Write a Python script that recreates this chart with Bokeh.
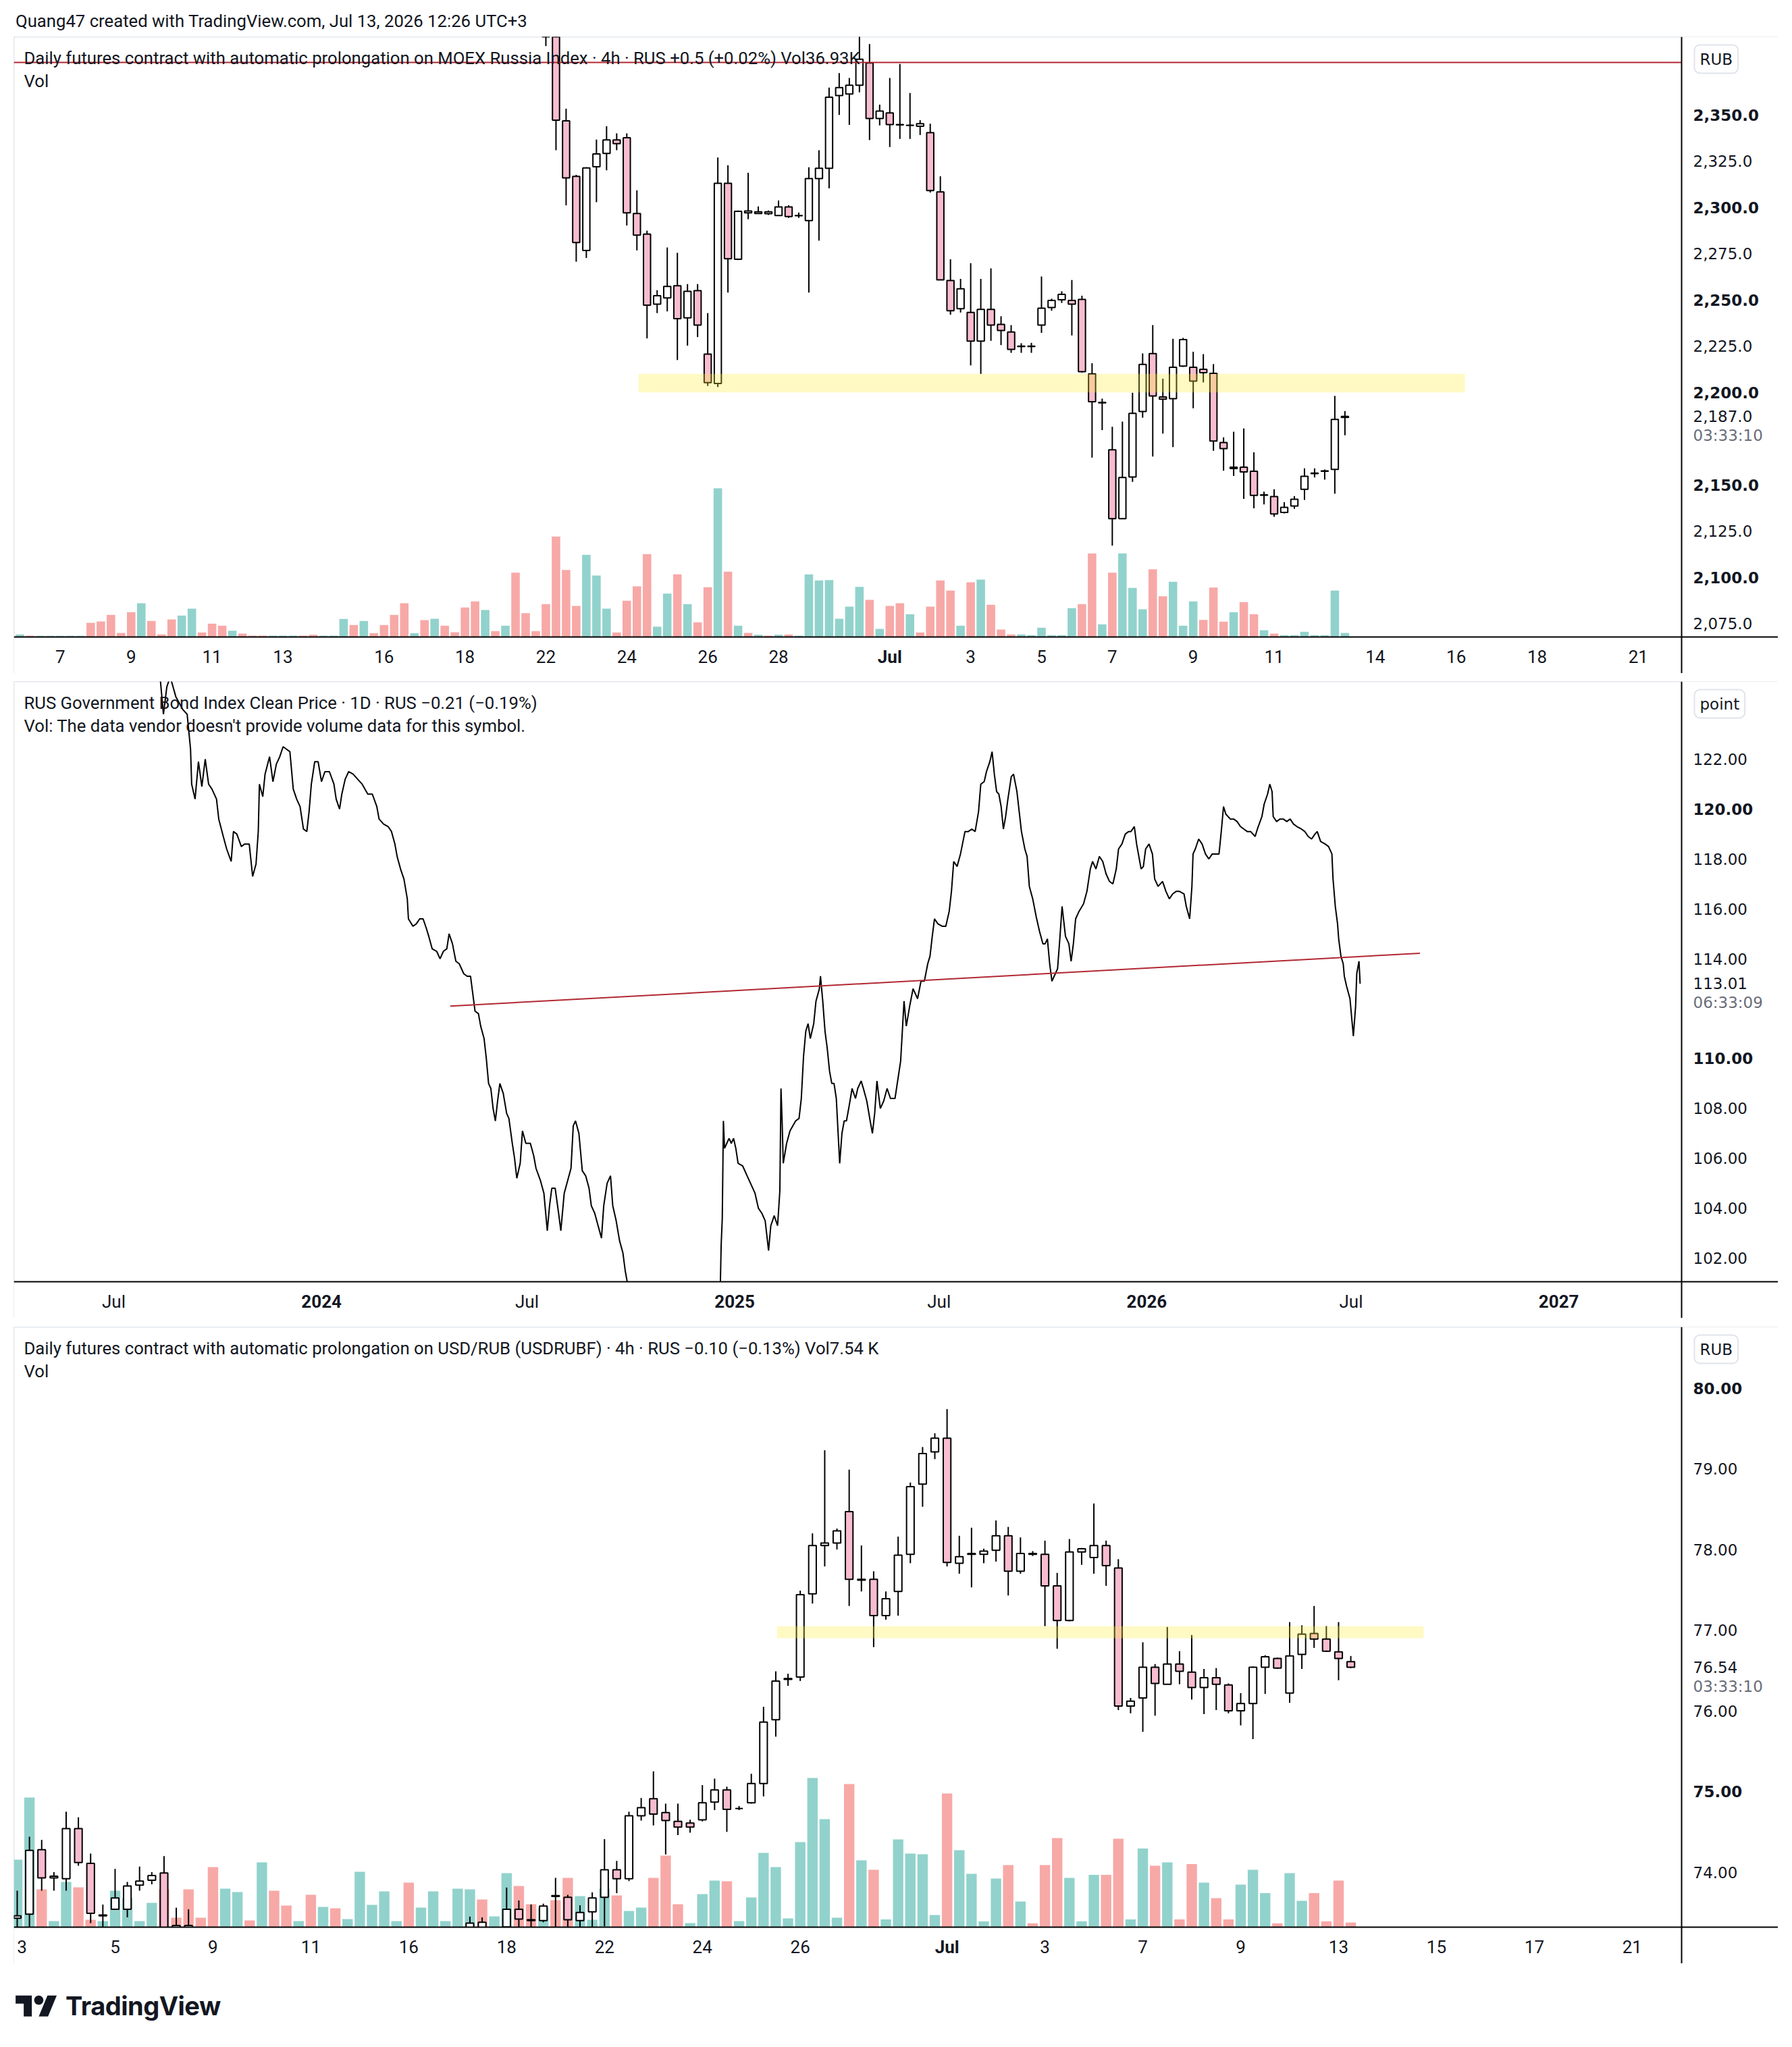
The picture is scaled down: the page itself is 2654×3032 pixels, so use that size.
import datetime as dt
from bokeh.plotting import figure
from bokeh.models import (Range1d, Label, Span, Div, Spacer, ColumnDataSource, BoxAnnotation)
from bokeh.layouts import column, row
from bokeh.embed import file_html
from bokeh.resources import INLINE

# ======================= DATA =======================
# ---- Panel 1: MOEX Russia Index futures, 4h (bar index axis) ----
moex_tick_idx = [4, 11, 19, 26, 36, 44, 52, 60, 68, 75, 86, 94, 101, 108, 116, 124, 134, 142, 150, 160]
moex_tick_lbl = ["7", "9", "11", "13", "16", "18", "22", "24", "26", "28", "Jul",
                 "3", "5", "7", "9", "11", "14", "16", "18", "21"]
moex_tick_bold = ["Jul"]
moex_idx = list(range(52, 132))
moex_open = [2412.0, 2398.0, 2346.9, 2316.9, 2276.8, 2322.1, 2329.3, 2336.6, 2337.8, 2296.8,
             2285.6, 2247.7, 2251.1, 2257.7, 2240.3, 2255.0, 2220.7, 2204.8, 2313.1, 2272.0,
             2297.1, 2296.8, 2296.7, 2295.7, 2300.3, 2295.6, 2292.9, 2315.7, 2321.2, 2360.6,
             2361.4, 2366.2, 2378.2, 2348.2, 2351.2, 2344.9, 2344.5, 2344.0, 2340.5, 2308.5,
             2260.5, 2245.3, 2243.3, 2227.7, 2244.9, 2236.8, 2232.7, 2224.8, 2224.8, 2236.4,
             2245.9, 2250.1, 2249.7, 2250.3, 2210.0, 2194.6, 2168.9, 2131.7, 2154.2, 2189.7,
             2221.0, 2197.5, 2196.6, 2214.2, 2213.6, 2212.5, 2210.3, 2172.9, 2159.5, 2159.5,
             2157.3, 2144.6, 2143.6, 2135.1, 2138.5, 2147.6, 2156.3, 2157.3, 2158.3, 2186.5]
moex_high = [2418.0, 2402.0, 2353.5, 2317.7, 2321.8, 2336.8, 2344.0, 2340.1, 2340.1, 2309.3,
             2287.5, 2255.3, 2278.4, 2275.5, 2258.6, 2258.6, 2242.9, 2327.1, 2322.9, 2298.4,
             2318.8, 2300.6, 2298.4, 2303.8, 2301.2, 2297.3, 2321.8, 2331.0, 2364.9, 2372.7,
             2370.1, 2395.0, 2388.4, 2355.7, 2370.1, 2377.7, 2362.0, 2347.3, 2345.3, 2316.9,
             2272.0, 2261.4, 2269.9, 2261.4, 2267.1, 2241.2, 2236.4, 2226.6, 2226.8, 2262.7,
             2250.7, 2254.7, 2260.8, 2252.3, 2215.8, 2196.6, 2181.4, 2184.2, 2199.8, 2221.1,
             2236.4, 2207.4, 2229.0, 2229.5, 2222.0, 2220.7, 2215.3, 2175.7, 2178.7, 2180.5,
             2167.6, 2146.3, 2147.6, 2140.6, 2143.9, 2158.9, 2158.9, 2158.3, 2198.1, 2189.9]
moex_low = [2387.3, 2331.0, 2301.2, 2270.7, 2272.7, 2302.9, 2320.1, 2331.0, 2290.3, 2276.8,
            2229.2, 2242.9, 2243.8, 2217.5, 2225.3, 2229.9, 2203.5, 2202.9, 2254.0, 2271.6,
            2293.7, 2296.8, 2296.0, 2295.7, 2294.4, 2294.4, 2254.0, 2282.1, 2310.4, 2350.1,
            2344.7, 2362.3, 2336.5, 2344.4, 2332.7, 2337.1, 2337.1, 2339.2, 2308.1, 2260.9,
            2242.0, 2243.2, 2214.6, 2210.0, 2227.9, 2225.6, 2221.4, 2221.4, 2221.4, 2232.2,
            2244.2, 2248.4, 2230.8, 2210.7, 2164.7, 2179.6, 2117.1, 2131.7, 2151.6, 2186.3,
            2165.3, 2177.7, 2170.4, 2213.8, 2191.4, 2205.4, 2168.4, 2157.6, 2154.8, 2142.4,
            2137.3, 2139.4, 2132.7, 2134.5, 2137.0, 2141.8, 2154.0, 2152.8, 2145.2, 2176.8]
moex_close = [2398.0, 2347.3, 2316.0, 2281.1, 2321.4, 2329.0, 2336.6, 2334.6, 2297.1, 2285.1,
              2247.2, 2252.3, 2257.3, 2239.9, 2254.7, 2236.4, 2205.3, 2313.1, 2272.3, 2298.0,
              2298.1, 2297.7, 2297.7, 2300.3, 2295.1, 2295.7, 2315.7, 2321.2, 2359.7, 2364.9,
              2366.2, 2380.2, 2348.2, 2352.2, 2344.9, 2344.7, 2344.4, 2345.3, 2309.2, 2260.9,
              2244.2, 2256.0, 2227.7, 2244.9, 2236.4, 2233.5, 2223.3, 2225.0, 2225.0, 2245.5,
              2249.7, 2253.0, 2247.7, 2211.2, 2195.0, 2194.3, 2131.7, 2154.0, 2188.7, 2215.1,
              2198.1, 2196.3, 2213.6, 2228.6, 2206.1, 2210.7, 2173.7, 2169.6, 2158.8, 2157.0,
              2144.3, 2144.4, 2134.2, 2137.8, 2142.2, 2154.6, 2156.1, 2157.5, 2185.4, 2187.0]
# volume for bars 0..131 (relative units) and direction (1 = up / teal, 0 = down / red)
moex_vol = [3.7, 2, 1.7, 1.7, 1.7, 1.7, 1.7, 21, 23, 32.7, 6, 36.7, 50, 23.7, 3.7, 26, 31.7, 42,
            6.7, 19.7, 16.7, 9.3, 5, 2, 2, 2, 2, 2, 2, 3.3, 2, 2, 26.7, 17.7, 23.7, 5.7, 17.7,
            32.7, 50, 5.7, 25, 27, 16.7, 7, 43.7, 52.7, 40, 8.7, 16.7, 95.3, 35.3, 8.7, 48.7,
            148.7, 99.3, 46, 121.7, 91, 42, 6.7, 53.7, 75, 122.7, 15.3, 64.3, 92.7, 48.7, 21.7,
            73.7, 220.3, 96.7, 16.7, 6, 3.3, 2, 3.3, 3.7, 2, 92.7, 83.7, 84.3, 27, 45, 74.3, 55,
            12, 46, 50, 33.7, 6.7, 45, 83.7, 68.7, 16.7, 81, 85, 47.7, 11, 3.7, 3.7, 2.7, 13.7,
            2.7, 2.7, 42.7, 48.7, 123.7, 18.7, 95.3, 123.7, 72.7, 41, 100.3, 60.3, 81.7, 16.7,
            52.7, 25.3, 73.3, 22.7, 36.7, 51.7, 33.7, 10, 5, 2.7, 2.7, 7.7, 2.7, 2.7, 68.7, 6]
moex_vol_up = [1, 0, 1, 1, 1, 1, 1, 0, 0, 0, 0, 0, 1, 0, 0, 0, 1, 1, 0, 0, 0, 1, 0, 0, 0, 1, 1, 1,
               0, 0, 1, 1, 1, 0, 1, 0, 0, 0, 0, 1, 0, 1, 0, 0, 0, 0, 1, 0, 1, 0, 0, 0, 0, 0, 0, 0,
               1, 1, 1, 0, 0, 0, 0, 1, 1, 0, 1, 0, 0, 1, 0, 1, 0, 1, 0, 1, 0, 1, 1, 1, 1, 1, 1, 1,
               0, 1, 0, 0, 1, 0, 0, 0, 0, 1, 0, 1, 0, 0, 0, 1, 1, 1, 1, 1, 1, 0, 0, 1, 0, 1, 1, 1,
               0, 0, 1, 1, 1, 0, 0, 0, 1, 0, 0, 1, 0, 1, 1, 1, 1, 1, 1, 1]
moex_hline = [2378.5]
moex_zone_bars = [61.15, 142.86]
moex_zone_price = [2200.0, 2210.0]
moex_price_ticks = [2350, 2325, 2300, 2275, 2250, 2225, 2200, 2150, 2125, 2100, 2075]
moex_price_bold = [2350, 2300, 2250, 2200, 2150, 2100]
moex_last = 2187.0

# ---- Panel 2: RUS Government Bond Index, 1D (days since 2023-07-01) ----
bond_day = [40, 44, 47, 50, 55, 61, 65, 68, 69, 72, 75, 78, 81, 84, 87, 91, 93, 97, 100, 104, 106,
            109, 113, 116, 120, 123, 126, 128, 129, 132, 134, 138, 141, 144, 147, 150, 153, 156,
            159, 162, 165, 168, 171, 173, 175, 178, 181, 184, 187, 191, 195, 197, 200, 202, 205,
            208, 212, 216, 220, 225, 229, 233, 235, 239, 243, 246, 249, 251, 254, 257, 260, 261,
            265, 268, 271, 274, 277, 279, 282, 286, 289, 292, 295, 297, 300, 303, 306, 310, 313,
            316, 318, 320, 323, 325, 328, 330, 332, 334, 336, 338, 340, 342, 345, 348, 350, 353,
            355, 357, 360, 362, 365, 369, 372, 374, 378, 381, 384, 386, 388, 391, 394, 396, 399,
            402, 405, 407, 409, 412, 415, 418, 421, 423, 426, 429, 432, 434, 437, 440, 442, 445,
            448, 451, 453, 455, 460, 470, 485, 500, 515, 528, 535, 537, 538, 539, 540, 541, 543,
            545, 547, 549, 551, 553, 557, 561, 564, 568, 571, 574, 577, 580, 582, 585, 588, 590,
            591, 592, 593, 596, 599, 604, 607, 609, 611, 613, 615, 617, 620, 622, 625, 626, 628,
            630, 632, 634, 636, 638, 640, 643, 645, 647, 649, 651, 654, 657, 659, 662, 664, 667,
            670, 672, 674, 676, 679, 682, 685, 688, 692, 695, 697, 700, 702, 705, 708, 712, 715,
            718, 721, 723, 725, 727, 730, 734, 737, 740, 742, 744, 747, 750, 754, 757, 760, 763,
            766, 768, 771, 773, 776, 778, 780, 782, 784, 786, 788, 790, 792, 795, 797, 800, 802,
            804, 807, 809, 811, 814, 817, 820, 823, 825, 827, 829, 831, 834, 836, 838, 840, 843,
            846, 848, 850, 852, 855, 859, 862, 865, 867, 870, 873, 876, 879, 882, 885, 888, 890,
            893, 896, 899, 901, 904, 906, 908, 910, 912, 914, 917, 920, 922, 925, 929, 932, 935,
            938, 941, 944, 948, 950, 953, 955, 956, 958, 961, 964, 967, 970, 973, 976, 979, 981,
            983, 985, 989, 992, 995, 998, 1001, 1004, 1007, 1011, 1013, 1017, 1019, 1022, 1024,
            1026, 1027, 1030, 1033, 1036, 1039, 1042, 1045, 1048, 1052, 1055, 1058, 1061, 1064,
            1066, 1069, 1073, 1076, 1079, 1080, 1082, 1084, 1085, 1087, 1089, 1090, 1092, 1095,
            1097, 1098, 1100, 1101, 1103, 1104]
bond_val = [125.8, 123.8, 124.9, 125.3, 124.5, 124.0, 123.8, 122.4, 121.0, 120.4, 121.9, 120.9,
            122.0, 121.0, 120.8, 120.4, 119.6, 118.9, 118.4, 117.9, 119.1, 119.0, 118.5, 118.6,
            118.6, 117.3, 117.8, 119.1, 121.0, 120.5, 121.4, 122.1, 121.1, 121.8, 122.1, 122.5,
            122.4, 122.3, 120.8, 120.4, 120.1, 119.2, 119.1, 119.9, 121.0, 121.9, 121.9, 121.1,
            121.5, 121.5, 121.0, 120.4, 120.0, 120.6, 121.2, 121.5, 121.4, 121.2, 121.0, 120.6,
            120.6, 120.1, 119.6, 119.4, 119.3, 119.1, 118.6, 118.1, 117.6, 117.2, 116.4, 115.6,
            115.3, 115.4, 115.6, 115.6, 115.2, 114.9, 114.4, 114.3, 114.0, 114.3, 114.4, 115.0,
            114.6, 113.9, 113.8, 113.4, 113.3, 113.3, 112.6, 111.9, 111.8, 111.3, 110.8, 110.0,
            109.0, 108.8, 108.0, 107.5, 108.3, 109.0, 108.6, 107.8, 107.6, 106.6, 106.0, 105.2,
            105.8, 107.1, 106.6, 106.6, 106.1, 105.6, 105.1, 104.6, 103.1, 104.1, 104.8, 104.8,
            103.8, 103.1, 104.6, 105.1, 105.6, 107.3, 107.5, 107.0, 105.5, 105.3, 104.8, 104.1,
            103.8, 103.3, 102.8, 104.1, 105.0, 105.3, 104.1, 103.5, 102.7, 102.2, 101.5, 101.0,
            100.4, 99.6, 99.0, 99.4, 98.6, 98.3, 99.2, 100.3, 102.5, 103.6, 107.5, 106.4, 106.6,
            106.8, 106.6, 106.8, 106.4, 105.8, 105.7, 105.3, 105.0, 104.6, 104.0, 103.8, 103.5,
            102.3, 103.3, 103.7, 103.3, 104.7, 108.8, 107.5, 105.8, 106.6, 107.1, 107.5, 107.6,
            108.4, 110.1, 111.1, 111.4, 110.8, 111.4, 112.3, 112.8, 113.3, 112.3, 111.1, 110.4,
            109.5, 109.0, 109.0, 108.4, 105.8, 107.0, 107.5, 107.5, 108.0, 108.8, 108.4, 108.8,
            109.1, 108.8, 108.3, 107.5, 107.0, 107.8, 109.1, 108.0, 108.3, 108.8, 108.4, 108.4,
            109.3, 109.9, 112.3, 111.3, 112.1, 112.8, 112.4, 113.1, 113.1, 113.8, 114.1, 114.9,
            115.6, 115.4, 115.3, 115.3, 115.9, 116.7, 117.9, 117.7, 118.2, 119.1, 119.1, 119.2,
            119.1, 119.9, 121.0, 121.1, 121.5, 121.9, 122.3, 121.4, 120.7, 120.6, 120.1, 119.2,
            119.7, 120.4, 121.3, 121.4, 120.7, 119.9, 119.1, 118.4, 118.1, 116.9, 116.4, 115.7,
            115.1, 114.6, 114.6, 114.8, 113.8, 113.1, 113.4, 113.6, 114.8, 116.1, 114.9, 114.6,
            113.9, 114.6, 115.6, 115.9, 116.2, 116.7, 117.6, 117.9, 117.6, 118.1, 117.9, 117.4,
            117.1, 117.0, 117.6, 118.4, 118.6, 119.0, 119.1, 119.1, 119.3, 118.6, 118.1, 117.6,
            117.7, 118.4, 118.6, 118.2, 117.2, 116.9, 117.1, 116.7, 116.4, 116.6, 116.7, 116.7,
            116.6, 116.1, 115.6, 116.9, 118.2, 118.4, 118.8, 118.6, 118.2, 118.0, 118.2, 118.2,
            118.2, 119.1, 120.1, 119.8, 119.6, 119.6, 119.5, 119.3, 119.2, 119.1, 119.1, 118.9,
            119.2, 119.7, 120.2, 120.6, 121.0, 120.7, 119.7, 119.5, 119.6, 119.6, 119.5, 119.6,
            119.4, 119.3, 119.2, 119.1, 118.9, 118.8, 119.0, 119.1, 118.7, 118.6, 118.5, 118.2,
            117.2, 116.1, 115.4, 114.8, 114.1, 113.8, 113.3, 112.9, 112.4, 111.4, 110.9, 112.1,
            113.4, 113.9, 113.0]
bond_trend_day = [298, 1157]
bond_trend_val = [112.10, 114.22]
bond_tick_date = ["2023-07-01", "2024-01-01", "2024-07-01", "2025-01-01",
                  "2025-07-01", "2026-01-01", "2026-07-01", "2027-01-01"]
bond_tick_lbl = ["Jul", "2024", "Jul", "2025", "Jul", "2026", "Jul", "2027"]
bond_tick_bold = ["2024", "2025", "2026", "2027"]
bond_price_ticks = [122, 120, 118, 116, 114, 110, 108, 106, 104, 102]
bond_price_bold = [120, 110]
bond_last = 113.01

# ---- Panel 3: USD/RUB futures, 4h (bar index axis) ----
usd_tick_idx = [0, 8, 16, 24, 32, 40, 48, 56, 64, 76, 84, 92, 100, 108, 116, 124, 132]
usd_tick_lbl = ["3", "5", "9", "11", "16", "18", "22", "24", "26", "Jul",
                "3", "7", "9", "13", "15", "17", "21"]
usd_tick_bold = ["Jul"]
usd_idx = list(range(0, 15)) + list(range(37, 110))
usd_open = [73.43, 73.48, 74.28, 73.93, 73.92, 74.54, 74.11, 73.47, 73.54, 73.54, 73.84, 73.90,
            73.99, 73.28, 73.28,
            73.30, 73.30, 73.29, 73.32, 73.54, 73.41, 73.40, 73.71, 73.69, 73.40, 73.51, 73.69,
            74.03, 73.92, 74.70, 74.91, 74.74, 74.63, 74.61, 74.65, 74.87, 75.02, 74.79, 74.86,
            75.10, 75.89, 76.39, 76.42, 77.45, 78.05, 78.08, 78.47, 77.63, 77.63, 77.18, 77.48,
            77.94, 78.81, 79.21, 79.38, 77.83, 77.95, 77.94, 77.99, 78.17, 77.73, 77.95, 77.94,
            77.55, 77.12, 77.97, 77.90, 78.05, 77.77, 76.06, 76.16, 76.54, 76.33, 76.58, 76.48,
            76.29, 76.41, 76.32, 76.00, 76.09, 76.54, 76.65, 76.22, 76.70, 76.96, 76.89, 76.73,
            76.61]
usd_high = [73.77, 74.44, 74.40, 74.00, 74.75, 74.68, 74.23, 73.60, 74.04, 73.88, 74.07, 74.00,
            74.20, 73.56, 73.54,
            73.45, 73.44, 73.32, 73.81, 73.65, 73.60, 73.61, 73.93, 73.72, 73.59, 73.75, 74.41,
            74.14, 74.75, 74.92, 75.25, 74.85, 74.85, 74.65, 75.08, 75.16, 75.06, 74.82, 75.22,
            76.05, 76.49, 76.46, 77.49, 78.20, 79.23, 78.26, 78.99, 78.05, 77.73, 77.48, 78.16,
            78.83, 79.27, 79.44, 79.74, 78.17, 78.27, 78.01, 78.36, 78.28, 78.15, 77.98, 78.11,
            77.71, 78.13, 78.02, 78.57, 78.11, 77.88, 76.16, 76.85, 76.58, 77.04, 76.74, 76.94,
            76.52, 76.53, 76.34, 76.22, 76.55, 76.69, 76.66, 77.10, 77.06, 77.30, 77.05, 77.10,
            76.68]
usd_low = [73.25, 73.25, 73.77, 73.77, 73.77, 74.08, 73.37, 73.28, 73.54, 73.44, 73.77, 73.85,
           73.20, 73.20, 73.20,
           73.25, 73.25, 73.25, 73.28, 73.30, 73.30, 73.38, 73.30, 73.30, 73.30, 73.31, 73.33,
           73.74, 73.89, 74.64, 74.58, 74.22, 74.46, 74.49, 74.63, 74.77, 74.50, 74.77, 74.85,
           74.94, 75.68, 76.31, 76.37, 77.33, 77.79, 78.00, 77.30, 77.48, 76.79, 77.13, 77.18,
           77.83, 78.53, 79.12, 77.79, 77.70, 77.53, 77.83, 77.85, 77.43, 77.70, 77.92, 77.05,
           76.77, 77.11, 77.81, 77.70, 77.55, 76.01, 75.97, 75.74, 75.94, 76.33, 76.33, 76.14,
           75.96, 76.01, 75.97, 75.82, 75.65, 76.21, 76.52, 76.10, 76.52, 76.78, 76.73, 76.38,
           76.53]
usd_close = [73.46, 74.27, 73.93, 73.95, 74.54, 74.12, 73.49, 73.46, 73.68, 73.83, 73.89, 73.96,
             73.25, 73.34, 73.34,
             73.37, 73.38, 73.30, 73.54, 73.42, 73.40, 73.58, 73.70, 73.41, 73.50, 73.68, 74.03,
             73.92, 74.70, 74.80, 74.72, 74.64, 74.56, 74.56, 74.86, 75.02, 74.78, 74.79, 75.10,
             75.86, 76.37, 76.40, 77.44, 78.05, 78.08, 78.23, 77.63, 77.62, 77.18, 77.39, 77.93,
             78.78, 79.19, 79.38, 77.84, 77.91, 77.94, 77.98, 78.17, 77.73, 77.95, 77.94, 77.55,
             77.12, 77.97, 78.01, 78.05, 77.80, 76.06, 76.12, 76.54, 76.34, 76.58, 76.49, 76.29,
             76.41, 76.33, 76.00, 76.09, 76.54, 76.67, 76.53, 76.68, 76.95, 76.89, 76.74, 76.65,
             76.54]
usd_vol = [100, 192, 56, 9, 67, 59, 11, 9, 54, 43, 9, 36, 56, 14, 56, 14, 89, 57, 52, 10,
           96, 54, 32, 9, 48, 30, 28, 12, 82, 33, 53, 9, 66, 29, 53, 9, 57, 56, 41, 16,
           80, 61, 34, 29, 40, 73, 46, 11, 57, 47, 24, 29, 73, 106, 34, 6, 49, 69, 68, 9,
           44, 110, 89, 13, 126, 221, 160, 14, 212, 99, 85, 11.5, 130, 109, 108, 18, 198, 114,
           79, 8.6, 72, 92, 38, 5.7, 92, 132, 73, 8.6, 77.5, 77.5, 131, 11.5, 116.5, 91, 96,
           11.5, 93.6, 66, 43, 11.5, 63, 85, 50.5, 5.7, 80, 39, 50.5, 8.6, 69, 6.9]
usd_vol_up = [1, 1, 0, 1, 1, 0, 0, 1, 1, 1, 1, 1, 0, 0, 0, 0, 0, 1, 1, 0,
              1, 0, 0, 1, 0, 1, 0, 1, 1, 1, 1, 1, 0, 1, 1, 1, 1, 1, 0, 1,
              1, 0, 0, 1, 0, 0, 1, 1, 1, 0, 1, 1, 0, 0, 0, 1, 1, 1, 0, 1,
              1, 1, 1, 1, 1, 1, 1, 1, 0, 1, 0, 1, 1, 1, 1, 1, 0, 1, 1, 1, 1, 0, 1, 0, 0, 0, 1, 1,
              1, 0, 0, 1, 1, 0, 1, 0, 0, 1, 0, 0, 1, 1, 1, 0, 1, 1, 0, 0, 0, 0]
usd_zone_bars = [62.1, 114.95]
usd_zone_price = [76.90, 77.05]
usd_price_ticks = [80, 79, 78, 77, 76, 75, 74]
usd_price_bold = [80, 75]
usd_last = 76.54

# ======================= STYLE / LAYOUT =======================
TXT = "#131722"
GRAY = "#6a6d78"
RED_LINE = "#b22833"
UP_FILL, DN_FILL = "white", "#f7bccf"
VOL_UP, VOL_DN = "#92d2cc", "#f7a9a7"
ZONE = "#ffeb3b"
TITLE_FONT = "Roboto"
SCALE_FONT = "DejaVu Sans"
TITLE_SIZE = 25.7

PAGE_W = 2654
PANEL_X = 20                 # page x of the panel's left edge
PANEL_W, PANEL_H = 2613, 943
SCALE_X = 2490               # page x of the price-scale separator
AXIS_GAP = 54                # height of the time-scale strip (px)
PLOT_H = PANEL_H - AXIS_GAP


class Cal:
    """linear map page-pixel -> data value for one panel axis"""
    def __init__(self, px_a, v_a, px_per_unit):
        self.px_a, self.v_a, self.k = px_a, v_a, px_per_unit

    def x(self, px):
        return self.v_a + (px - self.px_a) / self.k

    def y(self, py):
        return self.v_a - (py - self.px_a) / self.k


def make_panel(xcal, ycal, top):
    x0, x1 = xcal.x(PANEL_X), xcal.x(PANEL_X + PANEL_W)
    y1, y0 = ycal.y(top), ycal.y(top + PANEL_H)
    p = figure(width=PANEL_W, height=PANEL_H, x_range=Range1d(x0, x1), y_range=Range1d(y0, y1),
               output_backend="svg", toolbar_location=None, title=None,
               x_axis_location=None, y_axis_location=None, min_border=0,
               background_fill_color="white", border_fill_color="white")
    p.grid.grid_line_color = None
    p.outline_line_color = "#e4e7ee"
    p.outline_line_width = 2
    p._cal = dict(x0=x0, x1=x1, y0=y0, y1=y1, xb=xcal.x(SCALE_X), ya=ycal.y(top + PLOT_H),
                  kx=xcal.k)
    return p


def finish_panel(p):
    c = p._cal
    # white scale areas on top of the series (price scale right, time scale below)
    p.quad(left=[c["xb"], c["x0"]], right=[c["x1"], c["xb"]], bottom=[c["y0"], c["y0"]],
           top=[c["y1"], c["ya"]], fill_color="white", line_color=None)
    p.add_layout(Span(location=c["xb"], dimension="height", line_color="black", line_width=2))
    p.add_layout(Span(location=c["ya"], dimension="width", line_color="black", line_width=2))


def lab(p, x, y, text, xu="screen", yu="screen", size=TITLE_SIZE, bold=False, align="left",
        color=TXT, font=TITLE_FONT, **kw):
    p.add_layout(Label(x=x, y=y, x_units=xu, y_units=yu, text=text, text_font=font,
                       text_font_size=f"{size}px", text_font_style="bold" if bold else "normal",
                       text_align=align, text_baseline="middle", text_color=color, **kw))


def titles(p, line1, line2):
    lab(p, 15, PANEL_H - 31, line1)
    lab(p, 15, PANEL_H - 65, line2)


def price_scale(p, ticks, bold, fmt, last, countdown, unit):
    sx = 2507 - PANEL_X
    for t in ticks:
        lab(p, sx, t, fmt(t), yu="data", size=23, bold=(t in bold), font=SCALE_FONT)
    lab(p, sx, last, fmt(last), yu="data", size=23, font=SCALE_FONT)
    lab(p, sx, last, countdown, yu="data", size=23, font=SCALE_FONT, color=GRAY, y_offset=-28)
    lab(p, 2509 - PANEL_X, PANEL_H - 33, unit, size=23, font=SCALE_FONT,
        background_fill_color="white", border_line_color="#e0e3eb", border_line_width=2,
        padding=8, border_radius=8)


def time_labels(p, xs, texts, bold):
    c = p._cal
    for x, t in zip(xs, texts):
        # keep labels that sit on the panel's left edge fully inside it
        px_from_left = (x - c["x0"]) * c["kx"]
        shift = max(0.0, 12 - px_from_left)
        lab(p, x, AXIS_GAP - 29, t, xu="data", size=26, bold=(t in bold), align="center",
            x_offset=shift)


def draw_candles(p, idx, o, h, l, c, body_w):
    src = ColumnDataSource(dict(
        x=idx, h=h, l=l,
        top=[max(a, b) for a, b in zip(o, c)],
        bot=[min(a, b) for a, b in zip(o, c)],
        fill=[UP_FILL if cc >= oo else DN_FILL for oo, cc in zip(o, c)]))
    p.segment(x0="x", y0="h", x1="x", y1="l", source=src, line_color="black", line_width=2)
    p.vbar(x="x", width=body_w, top="top", bottom="bot", source=src, fill_color="fill",
           line_color="black", line_width=2)


def draw_volume(p, vol, up, bar_w):
    # volume pane: 1 unit = 1 px, base on the time axis line
    p.extra_y_ranges = {"vol": Range1d(-AXIS_GAP, PLOT_H)}
    src = ColumnDataSource(dict(x=list(range(len(vol))), v=vol,
                                col=[VOL_UP if u else VOL_DN for u in up]))
    p.vbar(x="x", width=bar_w, top="v", bottom=0, source=src, fill_color="col",
           line_color=None, y_range_name="vol")


# ---------------- Panel 1 ----------------
TOP1 = 54
p1 = make_panel(Cal(29, 0, 14.98), Cal(170, 2350, 2.738), TOP1)
draw_volume(p1, moex_vol, moex_vol_up, 0.84)
draw_candles(p1, moex_idx, moex_open, moex_high, moex_low, moex_close, 0.7)
p1.segment(x0=[p1._cal["x0"]], x1=[p1._cal["xb"]], y0=moex_hline, y1=moex_hline,
           line_color=RED_LINE, line_width=2)
p1.add_layout(BoxAnnotation(left=moex_zone_bars[0], right=moex_zone_bars[1],
                            bottom=moex_zone_price[0], top=moex_zone_price[1],
                            fill_color=ZONE, fill_alpha=0.3, line_color=None))
finish_panel(p1)
titles(p1, "Daily futures contract with automatic prolongation on MOEX Russia Index"
       " · 4h · RUS  +0.5 (+0.02%)  Vol36.93K", "Vol")
price_scale(p1, moex_price_ticks, moex_price_bold, lambda v: f"{v:,.1f}", moex_last,
            "03:33:10", "RUB")
time_labels(p1, moex_tick_idx, moex_tick_lbl, moex_tick_bold)

# ---------------- Panel 2 ----------------
BASE = dt.datetime(2023, 7, 1)
EPOCH = dt.datetime(1970, 1, 1)
DAY_MS = 86400000.0


def dms(d):
    return (BASE - EPOCH).total_seconds() * 1000.0 + d * DAY_MS


TOP2 = 1009
p2 = make_panel(Cal(168, dms(0), 1.672 / DAY_MS), Cal(1124, 122.0, 36.95), TOP2)
p2.line([dms(d) for d in bond_day], bond_val, line_color="black", line_width=2)
p2.line([dms(d) for d in bond_trend_day], bond_trend_val, line_color=RED_LINE, line_width=2)
finish_panel(p2)
titles(p2, "RUS Government Bond Index Clean Price · 1D · RUS  −0.21 (−0.19%)",
       "Vol: The data vendor doesn't provide volume data for this symbol.")
price_scale(p2, bond_price_ticks, bond_price_bold, lambda v: f"{v:.2f}", bond_last,
            "06:33:09", "point")
time_labels(p2, [(dt.datetime.fromisoformat(s) - EPOCH).total_seconds() * 1000.0
                 for s in bond_tick_date], bond_tick_lbl, bond_tick_bold)

# ---------------- Panel 3 ----------------
TOP3 = 1965
p3 = make_panel(Cal(25, 0, 18.12), Cal(2055.6, 80.0, 119.5), TOP3)
draw_volume(p3, usd_vol, usd_vol_up, 0.85)
draw_candles(p3, usd_idx, usd_open, usd_high, usd_low, usd_close, 0.62)
p3.add_layout(BoxAnnotation(left=usd_zone_bars[0], right=usd_zone_bars[1],
                            bottom=usd_zone_price[0], top=usd_zone_price[1],
                            fill_color=ZONE, fill_alpha=0.3, line_color=None))
finish_panel(p3)
titles(p3, "Daily futures contract with automatic prolongation on USD/RUB (USDRUBF)"
       " · 4h · RUS  −0.10 (−0.13%)  Vol7.54 K", "Vol")
price_scale(p3, usd_price_ticks, usd_price_bold, lambda v: f"{v:.2f}", usd_last,
            "03:33:10", "RUB")
time_labels(p3, usd_tick_idx, usd_tick_lbl, usd_tick_bold)

# ---------------- header / footer ----------------
header = Div(text=(f'<div style="font-family:Roboto;font-size:{TITLE_SIZE}px;color:{TXT};'
                   'padding:16px 0 0 23px;line-height:30px;white-space:nowrap">'
                   'Quang47 created with TradingView.com, Jul 13, 2026 12:26 UTC+3</div>'),
             width=PAGE_W, height=TOP1, margin=(0, 0, 0, 0))
logo = Div(text=(f'<div style="position:relative;width:600px;height:124px;color:{TXT}">'
                 '<svg style="position:absolute;left:23px;top:41px" width="62" height="48" '
                 'viewBox="0 0 36 28"><path d="M14 22H7V11H0V4h14v18zM28 22h-8l7.5-18h8L28 22z" '
                 f'fill="{TXT}"/><circle cx="20" cy="8" r="4" fill="{TXT}"/></svg>'
                 '<span style="position:absolute;left:97px;top:40px;font-family:Inter;'
                 'font-weight:700;font-size:38px;line-height:46px;letter-spacing:-0.5px">'
                 'TradingView</span></div>'),
           width=PAGE_W, height=124, margin=(0, 0, 0, 0))


def indent(p):
    return row(Spacer(width=PANEL_X, height=PANEL_H, margin=(0, 0, 0, 0)), p,
               spacing=0, margin=(0, 0, 0, 0))


layout = column(header, indent(p1), Spacer(width=PAGE_W, height=TOP2 - TOP1 - PANEL_H, margin=(0, 0, 0, 0)),
                indent(p2), Spacer(width=PAGE_W, height=TOP3 - TOP2 - PANEL_H, margin=(0, 0, 0, 0)),
                indent(p3), logo, spacing=0, margin=(0, 0, 0, 0))

open("out.html", "w").write(file_html(layout, INLINE))
